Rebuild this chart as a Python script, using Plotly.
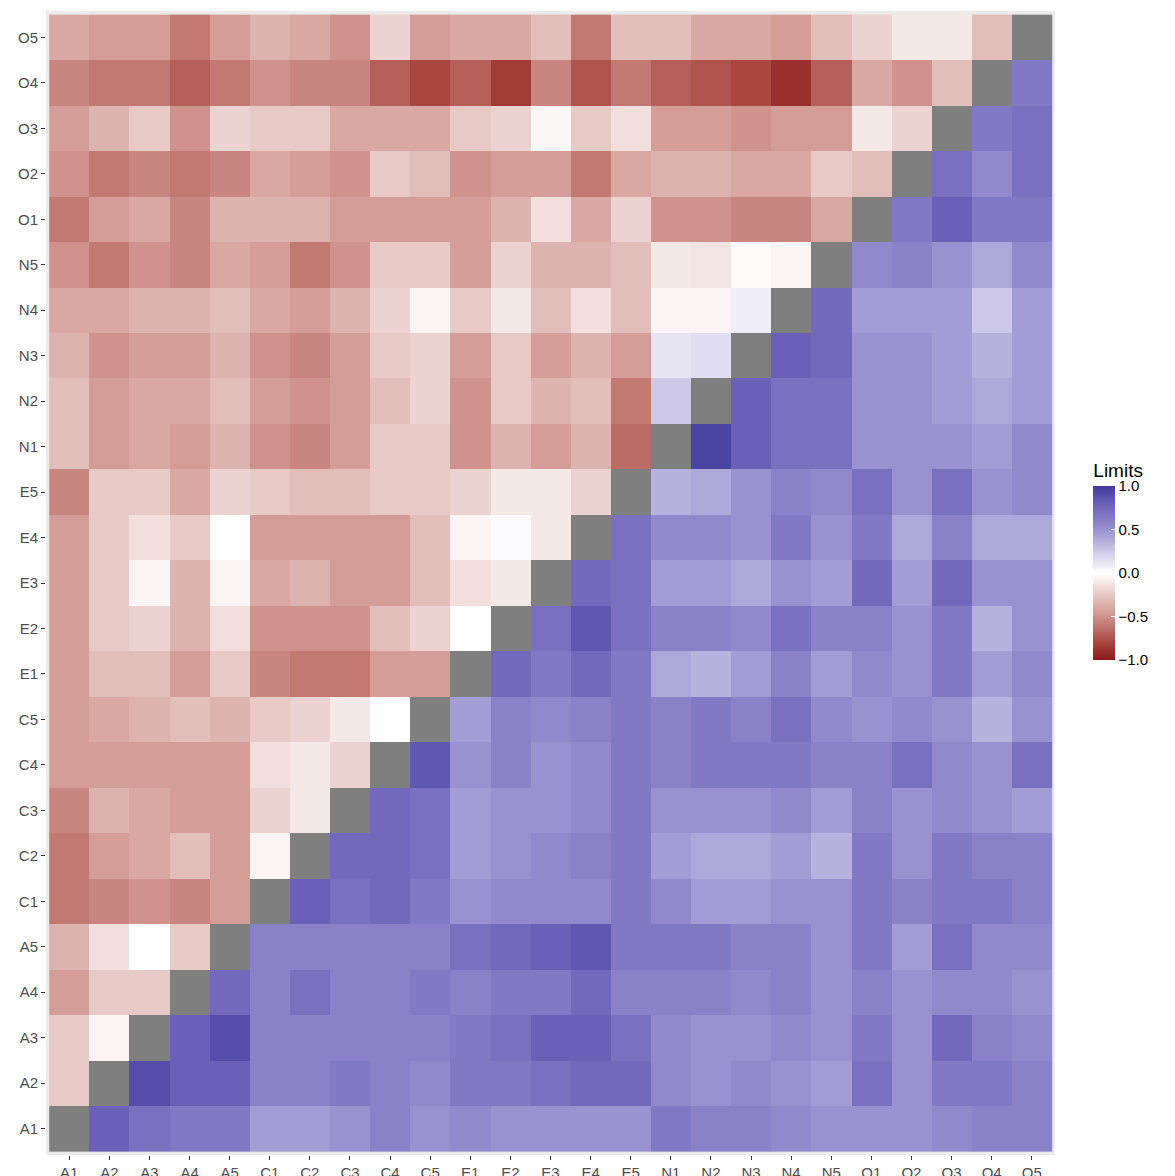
import plotly.graph_objects as go
import numpy as np

labels = ["A1","A2","A3","A4","A5","C1","C2","C3","C4","C5","E1","E2","E3","E4","E5",
          "N1","N2","N3","N4","N5","O1","O2","O3","O4","O5"]
N = None
# rows: y label (bottom A1 -> top O5); columns: x labels
rows = [
 [N,0.8,0.7,0.65,0.65,0.45,0.45,0.5,0.6,0.5,0.55,0.5,0.5,0.5,0.5,0.65,0.6,0.6,0.55,0.5,0.5,0.5,0.55,0.6,0.6],
 [-0.25,N,0.9,0.8,0.8,0.6,0.6,0.65,0.6,0.55,0.65,0.65,0.7,0.75,0.75,0.55,0.5,0.55,0.5,0.45,0.7,0.5,0.65,0.65,0.6],
 [-0.25,-0.05,N,0.8,0.9,0.6,0.6,0.6,0.6,0.6,0.65,0.7,0.8,0.8,0.7,0.55,0.5,0.5,0.55,0.5,0.65,0.5,0.75,0.6,0.55],
 [-0.45,-0.25,-0.25,N,0.75,0.6,0.7,0.6,0.6,0.65,0.6,0.65,0.65,0.75,0.6,0.6,0.6,0.55,0.6,0.5,0.6,0.5,0.55,0.55,0.5],
 [-0.35,-0.15,0.0,-0.25,N,0.6,0.6,0.6,0.6,0.6,0.7,0.75,0.8,0.85,0.65,0.65,0.65,0.6,0.6,0.5,0.65,0.45,0.7,0.55,0.55],
 [-0.6,-0.55,-0.5,-0.55,-0.45,N,0.8,0.7,0.75,0.65,0.5,0.55,0.55,0.55,0.65,0.55,0.45,0.45,0.5,0.5,0.65,0.6,0.65,0.65,0.6],
 [-0.6,-0.45,-0.4,-0.3,-0.45,-0.05,N,0.75,0.75,0.7,0.45,0.5,0.55,0.6,0.65,0.45,0.4,0.4,0.45,0.35,0.65,0.5,0.65,0.6,0.6],
 [-0.55,-0.35,-0.4,-0.45,-0.45,-0.2,-0.1,N,0.75,0.7,0.45,0.5,0.5,0.55,0.65,0.5,0.5,0.5,0.55,0.45,0.6,0.5,0.55,0.5,0.45],
 [-0.45,-0.45,-0.45,-0.45,-0.45,-0.15,-0.1,-0.2,N,0.85,0.5,0.6,0.5,0.55,0.65,0.6,0.65,0.65,0.65,0.6,0.6,0.7,0.55,0.5,0.7],
 [-0.45,-0.4,-0.35,-0.3,-0.35,-0.25,-0.2,-0.1,0.0,N,0.45,0.6,0.55,0.6,0.65,0.6,0.65,0.6,0.7,0.55,0.5,0.55,0.5,0.35,0.5],
 [-0.45,-0.3,-0.3,-0.45,-0.25,-0.55,-0.6,-0.6,-0.45,-0.45,N,0.75,0.65,0.75,0.65,0.4,0.35,0.45,0.6,0.45,0.55,0.5,0.65,0.45,0.55],
 [-0.45,-0.25,-0.2,-0.35,-0.15,-0.5,-0.5,-0.5,-0.3,-0.2,0.0,N,0.7,0.85,0.7,0.6,0.6,0.55,0.7,0.6,0.6,0.5,0.65,0.35,0.5],
 [-0.45,-0.25,-0.05,-0.35,-0.05,-0.4,-0.35,-0.45,-0.45,-0.3,-0.15,-0.1,N,0.75,0.7,0.45,0.45,0.4,0.5,0.45,0.75,0.45,0.75,0.5,0.5],
 [-0.45,-0.25,-0.15,-0.25,0.0,-0.45,-0.45,-0.45,-0.45,-0.3,-0.05,0.02,-0.1,N,0.7,0.55,0.55,0.5,0.65,0.5,0.65,0.4,0.6,0.4,0.4],
 [-0.55,-0.25,-0.25,-0.4,-0.2,-0.25,-0.3,-0.3,-0.25,-0.25,-0.2,-0.1,-0.1,-0.2,N,0.35,0.4,0.5,0.6,0.55,0.7,0.5,0.7,0.5,0.55],
 [-0.3,-0.45,-0.4,-0.45,-0.35,-0.5,-0.55,-0.45,-0.25,-0.25,-0.5,-0.35,-0.45,-0.35,-0.65,N,0.95,0.8,0.7,0.7,0.5,0.5,0.5,0.45,0.55],
 [-0.3,-0.45,-0.4,-0.4,-0.3,-0.45,-0.5,-0.45,-0.3,-0.2,-0.5,-0.25,-0.35,-0.3,-0.6,0.25,N,0.8,0.7,0.7,0.5,0.5,0.45,0.4,0.45],
 [-0.35,-0.5,-0.45,-0.45,-0.35,-0.5,-0.55,-0.45,-0.25,-0.2,-0.45,-0.25,-0.45,-0.35,-0.45,0.12,0.15,N,0.8,0.75,0.5,0.5,0.45,0.35,0.45],
 [-0.4,-0.4,-0.35,-0.35,-0.3,-0.4,-0.45,-0.35,-0.2,-0.05,-0.25,-0.1,-0.3,-0.15,-0.3,-0.05,-0.05,0.08,N,0.75,0.45,0.45,0.45,0.25,0.45],
 [-0.5,-0.6,-0.5,-0.55,-0.4,-0.45,-0.6,-0.5,-0.25,-0.25,-0.45,-0.2,-0.35,-0.35,-0.3,-0.1,-0.12,-0.02,-0.05,N,0.55,0.6,0.5,0.4,0.55],
 [-0.6,-0.45,-0.4,-0.55,-0.35,-0.35,-0.35,-0.45,-0.45,-0.45,-0.45,-0.35,-0.15,-0.4,-0.2,-0.5,-0.5,-0.55,-0.55,-0.4,N,0.65,0.8,0.65,0.65],
 [-0.5,-0.6,-0.55,-0.6,-0.55,-0.4,-0.45,-0.5,-0.25,-0.3,-0.5,-0.45,-0.45,-0.6,-0.4,-0.35,-0.35,-0.4,-0.4,-0.25,-0.3,N,0.7,0.55,0.7],
 [-0.45,-0.35,-0.25,-0.5,-0.2,-0.25,-0.25,-0.4,-0.4,-0.4,-0.25,-0.2,-0.03,-0.25,-0.15,-0.45,-0.45,-0.5,-0.45,-0.45,-0.1,-0.2,N,0.65,0.7],
 [-0.55,-0.6,-0.6,-0.7,-0.6,-0.5,-0.55,-0.55,-0.7,-0.8,-0.7,-0.85,-0.55,-0.75,-0.6,-0.7,-0.75,-0.8,-0.9,-0.7,-0.4,-0.5,-0.3,N,0.65],
 [-0.4,-0.45,-0.45,-0.6,-0.45,-0.35,-0.4,-0.5,-0.2,-0.45,-0.4,-0.4,-0.3,-0.6,-0.3,-0.3,-0.4,-0.4,-0.45,-0.3,-0.2,-0.1,-0.1,-0.3,N],
]

z = np.array([[np.nan if v is None else v for v in r] for r in rows], dtype=float)
diag = np.full(z.shape, np.nan)
np.fill_diagonal(diag, 1.0)

fig = go.Figure()
fig.add_trace(go.Heatmap(z=diag, x=labels, y=labels, colorscale=[[0,"#7F7F7F"],[1,"#7F7F7F"]],
                         showscale=False, hoverinfo="skip"))
fig.add_trace(go.Heatmap(
    z=z, x=labels, y=labels, zmin=-1, zmax=1,
    colorscale=[[0,"#8B1A1A"],[0.1,"#a8463f"],[0.25,"#cf928c"],[0.5,"#FFFFFF"],
                [0.75,"#9a91d0"],[0.9,"#6a60b8"],[1,"#3f3a9a"]],
    colorbar=dict(title=dict(text="Limits", font=dict(size=19, color="black"), side="top"),
                  tickvals=[-1,-0.5,0,0.5,1], ticktext=["−1.0","−0.5","0.0","0.5","1.0"],
                  tickfont=dict(size=15, color="black"), len=200, lenmode="pixels",
                  thickness=22, x=1.038, xanchor="left", y=0.52, yanchor="middle",
                  xpad=0, ypad=0, outlinewidth=0, ticks="inside", ticklen=4, tickcolor="white")))

fig.update_layout(
    width=1175, height=1176, margin=dict(l=38, r=128, t=3, b=29, autoexpand=False),
    plot_bgcolor="#EBEBEB", paper_bgcolor="white",
    font=dict(family="Liberation Sans, Arial", size=15, color="#4D4D4D"),
    xaxis=dict(range=[-0.58, 24.58], showgrid=False, zeroline=False, ticks="outside",
               ticklen=4, tickcolor="#333333", automargin=False,
               tickfont=dict(size=15, color="#4D4D4D")),
    yaxis=dict(range=[-0.58, 24.58], showgrid=False, zeroline=False, ticks="outside",
               ticklen=4, tickcolor="#333333", automargin=False,
               tickfont=dict(size=15, color="#4D4D4D")),
)
fig.write_html("out.html")
